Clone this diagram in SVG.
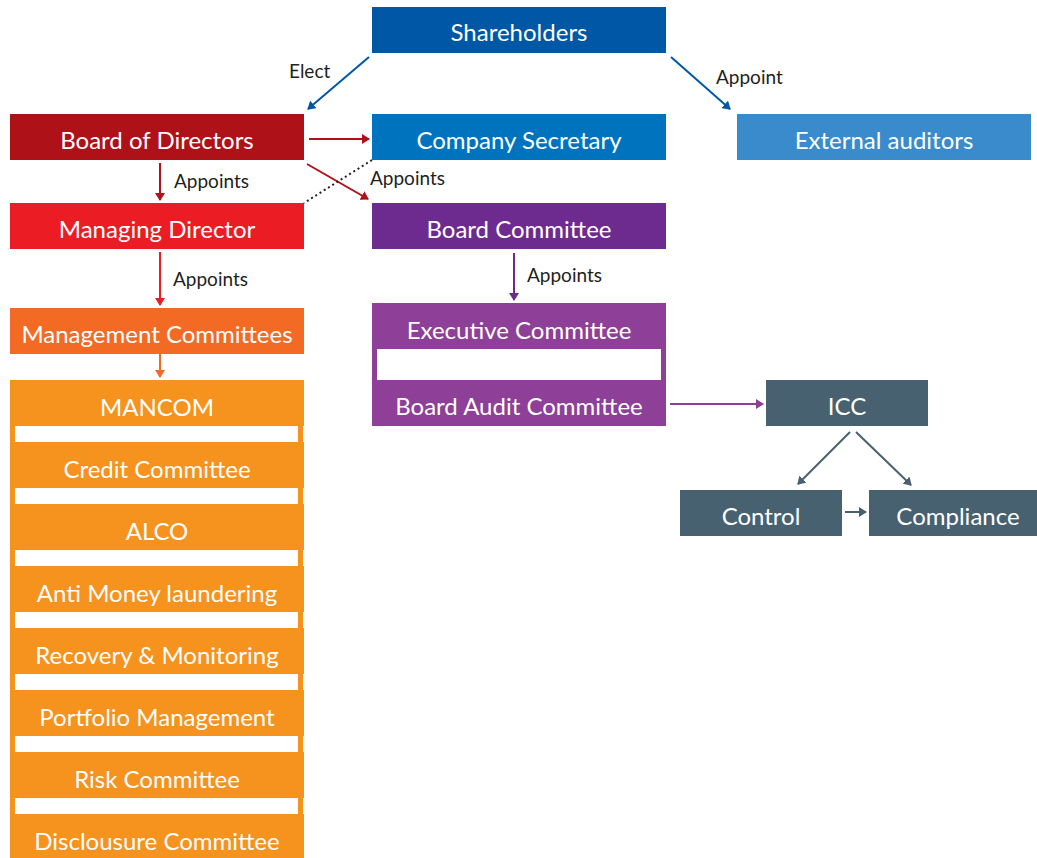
<svg xmlns="http://www.w3.org/2000/svg" width="1037" height="858" viewBox="0 0 1037 858">
<style>
  .t{font-family:Lato,"Open Sans",sans-serif;font-size:24px;fill:#fff;text-anchor:middle;dominant-baseline:central}
  .l{font-family:Lato,"Open Sans",sans-serif;font-size:19px;fill:#231f20}
  .c{fill:none;stroke-width:2}
</style>
<defs>
  <marker id="mBlue" markerWidth="10" markerHeight="10" refX="7" refY="5" orient="auto" markerUnits="userSpaceOnUse"><path d="M0,0 L8,5 L0,10 z" fill="#0057a6"/></marker>
  <marker id="mDark" markerWidth="10" markerHeight="10" refX="7" refY="5" orient="auto" markerUnits="userSpaceOnUse"><path d="M0,0 L8,5 L0,10 z" fill="#ae1118"/></marker>
  <marker id="mRed" markerWidth="10" markerHeight="10" refX="7" refY="5" orient="auto" markerUnits="userSpaceOnUse"><path d="M0,0 L8,5 L0,10 z" fill="#ec1c24"/></marker>
  <marker id="mOr" markerWidth="10" markerHeight="10" refX="7" refY="5" orient="auto" markerUnits="userSpaceOnUse"><path d="M0,0 L8,5 L0,10 z" fill="#f26a23"/></marker>
  <marker id="mPur" markerWidth="10" markerHeight="10" refX="7" refY="5" orient="auto" markerUnits="userSpaceOnUse"><path d="M0,0 L8,5 L0,10 z" fill="#6e2b8f"/></marker>
  <marker id="mPur2" markerWidth="10" markerHeight="10" refX="7" refY="5" orient="auto" markerUnits="userSpaceOnUse"><path d="M0,0 L8,5 L0,10 z" fill="#8e3f97"/></marker>
  <marker id="mGr" markerWidth="10" markerHeight="10" refX="7" refY="5" orient="auto" markerUnits="userSpaceOnUse"><path d="M0,0 L8,5 L0,10 z" fill="#486170"/></marker>
</defs>

<g id="shareholders"><rect x="372" y="7" width="294" height="46" fill="#0057a6"/><text class="t" x="519" y="31">Shareholders</text></g>
<g id="board-of-directors"><rect x="10" y="114" width="294" height="46" fill="#ae1118"/><text class="t" x="157" y="139">Board of Directors</text></g>
<g id="company-secretary"><rect x="372" y="114" width="294" height="46" fill="#0073bf"/><text class="t" x="519" y="139">Company Secretary</text></g>
<g id="external-auditors"><rect x="737" y="114" width="294" height="46" fill="#3a8bcb"/><text class="t" x="884" y="139">External auditors</text></g>
<g id="managing-director"><rect x="10" y="203" width="294" height="46" fill="#ec1c24"/><text class="t" x="157" y="228">Managing Director</text></g>
<g id="board-committee"><rect x="372" y="203" width="294" height="46" fill="#6e2b8f"/><text class="t" x="519" y="228">Board Committee</text></g>
<g id="management-committees"><rect x="10" y="308" width="294" height="46" fill="#f26a23"/><text class="t" x="157" y="333">Management Committees</text></g>

<g id="committee-list">
  <rect x="10" y="380" width="294" height="478" fill="#f6921e"/>
  <g fill="#fff">
    <rect x="15" y="426" width="283" height="16"/><rect x="303" y="426" width="2" height="16"/>
    <rect x="15" y="488" width="283" height="16"/><rect x="303" y="488" width="2" height="16"/>
    <rect x="15" y="550" width="283" height="16"/><rect x="303" y="550" width="2" height="16"/>
    <rect x="15" y="612" width="283" height="16"/><rect x="303" y="612" width="2" height="16"/>
    <rect x="15" y="674" width="283" height="16"/><rect x="303" y="674" width="2" height="16"/>
    <rect x="15" y="736" width="283" height="16"/><rect x="303" y="736" width="2" height="16"/>
    <rect x="15" y="798" width="283" height="16"/><rect x="303" y="798" width="2" height="16"/>
  </g>
  <text class="t" x="157" y="406">MANCOM</text>
  <text class="t" x="157" y="468">Credit Committee</text>
  <text class="t" x="157" y="530">ALCO</text>
  <text class="t" x="157" y="592">Anti Money laundering</text>
  <text class="t" x="157" y="654">Recovery &amp; Monitoring</text>
  <text class="t" x="157" y="716">Portfolio Management</text>
  <text class="t" x="157" y="778">Risk Committee</text>
  <text class="t" x="157" y="840">Disclousure Committee</text>
</g>

<g id="executive-audit">
  <rect x="372" y="303" width="294" height="123" fill="#8e3f97"/>
  <rect x="377" y="349" width="284" height="31" fill="#fff"/>
  <text class="t" x="519" y="329">Executive Committee</text>
  <text class="t" x="519" y="405">Board Audit Committee</text>
</g>

<g id="icc"><rect x="766" y="380" width="162" height="46" fill="#486170"/><text class="t" x="847" y="405">ICC</text></g>
<g id="control"><rect x="680" y="490" width="162" height="46" fill="#486170"/><text class="t" x="761" y="515">Control</text></g>
<g id="compliance"><rect x="869" y="490" width="168" height="46" fill="#486170"/><text class="t" x="958" y="515">Compliance</text></g>

<g id="connectors">
  <line class="c" x1="369" y1="57" x2="308" y2="109" stroke="#0057a6" marker-end="url(#mBlue)"/>
  <line class="c" x1="671" y1="57" x2="730" y2="109" stroke="#0057a6" marker-end="url(#mBlue)"/>
  <line class="c" x1="309" y1="139" x2="369" y2="139" stroke="#ae1118" marker-end="url(#mDark)"/>
  <line class="c" x1="307" y1="164" x2="368" y2="199" stroke="#ae1118" marker-end="url(#mDark)"/>
  <line x1="372" y1="160" x2="304" y2="203" stroke="#231f20" stroke-width="2" stroke-dasharray="2,3"/>
  <line class="c" x1="160" y1="163" x2="160" y2="200" stroke="#ae1118" marker-end="url(#mDark)"/>
  <line class="c" x1="160" y1="252" x2="160" y2="305" stroke="#ec1c24" marker-end="url(#mRed)"/>
  <line class="c" x1="160" y1="354" x2="160" y2="377" stroke="#f26a23" marker-end="url(#mOr)"/>
  <line class="c" x1="514" y1="253" x2="514" y2="300" stroke="#6e2b8f" marker-end="url(#mPur)"/>
  <line class="c" x1="670" y1="404" x2="763" y2="404" stroke="#8e3f97" marker-end="url(#mPur2)"/>
  <line class="c" x1="850" y1="432" x2="798" y2="484" stroke="#486170" marker-end="url(#mGr)"/>
  <line class="c" x1="856" y1="432" x2="911" y2="485" stroke="#486170" marker-end="url(#mGr)"/>
  <line class="c" x1="845" y1="512" x2="866" y2="512" stroke="#486170" marker-end="url(#mGr)"/>
  <text class="l" x="289" y="78">Elect</text>
  <text class="l" x="716" y="84">Appoint</text>
  <text class="l" x="174" y="188">Appoints</text>
  <text class="l" x="370" y="185">Appoints</text>
  <text class="l" x="173" y="286">Appoints</text>
  <text class="l" x="527" y="282">Appoints</text>
</g>
</svg>
